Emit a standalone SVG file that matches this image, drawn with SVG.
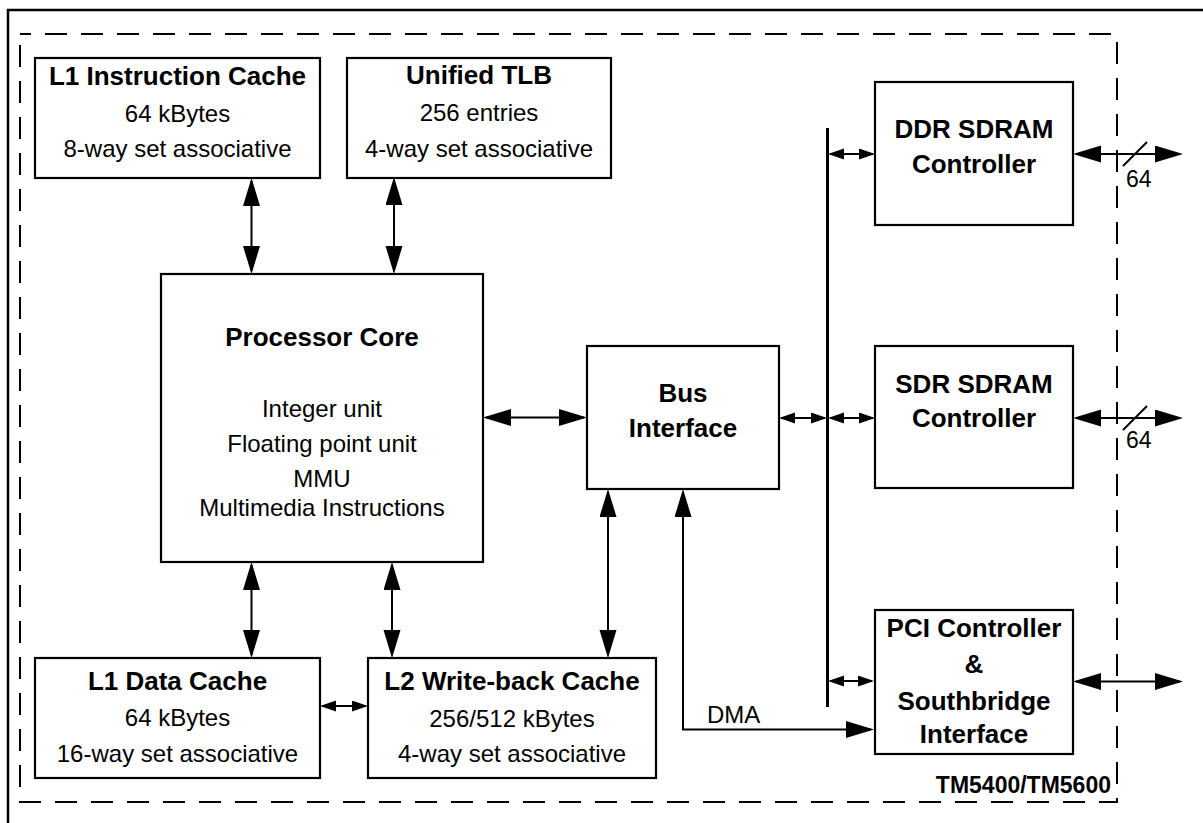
<svg xmlns="http://www.w3.org/2000/svg" width="1203" height="823" viewBox="0 0 1203 823">
<style>
.box{fill:#fff;stroke:#000;stroke-width:2.2}
.t{font-family:"Liberation Sans",Arial,sans-serif;font-size:24px;fill:#000;text-anchor:middle}
.b{font-weight:bold;font-size:26px}
.ln{fill:none;stroke:#000;stroke-width:2}
.big{marker-start:url(#ah);marker-end:url(#ah)}
.sm{marker-start:url(#as);marker-end:url(#as)}
</style>
<defs>
<marker id="ah" markerUnits="userSpaceOnUse" markerWidth="30" markerHeight="18" refX="25" refY="8.5" orient="auto-start-reverse"><path d="M0,0 L28,8.5 L0,17 z" fill="#000"/></marker>
<marker id="as" markerUnits="userSpaceOnUse" markerWidth="18" markerHeight="12" refX="14" refY="5.5" orient="auto-start-reverse"><path d="M0,0 L16,5.5 L0,11 z" fill="#000"/></marker>
<marker id="ae" markerUnits="userSpaceOnUse" markerWidth="30" markerHeight="18" refX="25" refY="8.5" orient="auto"><path d="M0,0 L28,8.5 L0,17 z" fill="#000"/></marker>
</defs>
<rect width="1203" height="823" fill="#fff"/>
<g id="frame">
<path d="M8,823 V10 H1203" fill="none" stroke="#000" stroke-width="2.5"/>
<rect x="20" y="34" width="1097" height="768" fill="none" stroke="#000" stroke-width="2" stroke-dasharray="22 14" stroke-dashoffset="11"/>
<text class="t b" x="1111" y="793" style="text-anchor:end;font-size:23px">TM5400/TM5600</text>
</g>
<g id="connectors">
<line class="ln big" x1="251.5" y1="181" x2="251.5" y2="271"/>
<line class="ln big" x1="394" y1="180" x2="394" y2="271"/>
<line class="ln big" x1="251.5" y1="565" x2="251.5" y2="655"/>
<line class="ln big" x1="392" y1="565" x2="392" y2="655"/>
<line class="ln big" x1="486" y1="417.5" x2="584" y2="417.5"/>
<line class="ln big" x1="608" y1="492" x2="608" y2="655"/>
<path class="ln" d="M683,492 V729.5 H871" marker-start="url(#ah)" marker-end="url(#ae)"/>
<line class="ln sm" x1="322" y1="706" x2="366" y2="706"/>
<line x1="827.5" y1="128" x2="827.5" y2="707" stroke="#000" stroke-width="3"/>
<line class="ln sm" x1="781" y1="418" x2="825" y2="418"/>
<line class="ln sm" x1="830" y1="418" x2="873" y2="418"/>
<line class="ln sm" x1="830" y1="154" x2="873" y2="154"/>
<line class="ln sm" x1="830" y1="681" x2="872" y2="681"/>
<line class="ln big" x1="1076" y1="154" x2="1180" y2="154"/>
<line class="ln big" x1="1076" y1="418" x2="1180" y2="418"/>
<line class="ln big" x1="1076" y1="681.5" x2="1180" y2="681.5"/>
<line class="ln" x1="1123" y1="166" x2="1147" y2="142" stroke-width="1.5"/>
<line class="ln" x1="1123" y1="430" x2="1147" y2="406" stroke-width="1.5"/>
<text class="t" x="1126" y="187" style="text-anchor:start;font-size:23px">64</text>
<text class="t" x="1126" y="448" style="text-anchor:start;font-size:23px">64</text>
<text class="t" x="707" y="723" style="text-anchor:start">DMA</text>
</g>
<g id="l1i">
<rect class="box" x="35" y="58" width="285" height="120"/>
<text class="t b" x="177.5" y="85">L1 Instruction Cache</text>
<text class="t" x="177.5" y="122">64 kBytes</text>
<text class="t" x="177.5" y="157">8-way set associative</text>
</g>
<g id="tlb">
<rect class="box" x="347" y="58" width="264" height="120"/>
<text class="t b" x="479" y="84">Unified TLB</text>
<text class="t" x="479" y="121">256 entries</text>
<text class="t" x="479" y="157">4-way set associative</text>
</g>
<g id="core">
<rect class="box" x="161" y="274" width="322" height="288"/>
<text class="t b" x="322" y="346">Processor Core</text>
<text class="t" x="322" y="417">Integer unit</text>
<text class="t" x="322" y="452">Floating point unit</text>
<text class="t" x="322" y="487">MMU</text>
<text class="t" x="322" y="516">Multimedia Instructions</text>
</g>
<g id="bus">
<rect class="box" x="587" y="346" width="192" height="143"/>
<text class="t b" x="683" y="402">Bus</text>
<text class="t b" x="683" y="437">Interface</text>
</g>
<g id="ddr">
<rect class="box" x="875" y="82" width="198" height="143"/>
<text class="t b" x="974" y="138">DDR SDRAM</text>
<text class="t b" x="974" y="173">Controller</text>
</g>
<g id="sdr">
<rect class="box" x="875" y="346" width="198" height="142"/>
<text class="t b" x="974" y="393">SDR SDRAM</text>
<text class="t b" x="974" y="427">Controller</text>
</g>
<g id="pci">
<rect class="box" x="875" y="610" width="198" height="144"/>
<text class="t b" x="974" y="637">PCI Controller</text>
<text class="t b" x="974" y="673">&amp;</text>
<text class="t b" x="974" y="710">Southbridge</text>
<text class="t b" x="974" y="743">Interface</text>
</g>
<g id="l1d">
<rect class="box" x="35" y="658" width="285" height="120"/>
<text class="t b" x="177.5" y="690">L1 Data Cache</text>
<text class="t" x="177.5" y="726">64 kBytes</text>
<text class="t" x="177.5" y="762">16-way set associative</text>
</g>
<g id="l2">
<rect class="box" x="368" y="658" width="288" height="120"/>
<text class="t b" x="512" y="690">L2 Write-back Cache</text>
<text class="t" x="512" y="727">256/512 kBytes</text>
<text class="t" x="512" y="762">4-way set associative</text>
</g>
</svg>
